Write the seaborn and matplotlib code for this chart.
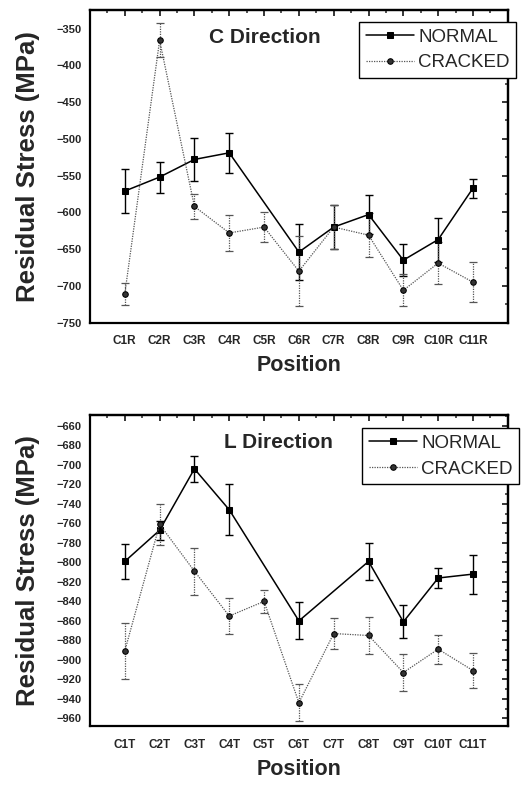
import numpy as np
import pandas as pd
import matplotlib
matplotlib.use("Agg")
import matplotlib.pyplot as plt
from matplotlib.ticker import MultipleLocator
import seaborn as sns

sns.set_style("white")
plt.rcParams['font.family'] = ['Liberation Sans', 'DejaVu Sans']

# C direction (top panel)
c_labels = ["C1R", "C2R", "C3R", "C4R", "C5R", "C6R", "C7R", "C8R", "C9R", "C10R", "C11R"]
c_normal = [-571, -552, -528, -519, np.nan, -654, -620, -603, -665, -637, -567]
c_normal_err = [30, 21, 29, 27, np.nan, 38, 30, 26, 22, 30, 13]
c_cracked = [-711, -366, -592, -628, -620, -680, -620, -631, -706, -669, -695]
c_cracked_err = [15, 23, 17, 24, 20, 48, 30, 30, 22, 29, 27]

# L direction (bottom panel)
l_labels = ["C1T", "C2T", "C3T", "C4T", "C5T", "C6T", "C7T", "C8T", "C9T", "C10T", "C11T"]
l_normal = [-799, -767, -704, -746, np.nan, -860, np.nan, -799, -861, -816, -812]
l_normal_err = [18, 10, 13, 26, np.nan, 19, np.nan, 19, 17, 10, 20]
l_cracked = [-891, -761, -809, -855, -840, -944, -873, -875, -913, -889, -911]
l_cracked_err = [29, 21, 24, 18, 12, 19, 16, 19, 19, 15, 18]


def draw_panel(ax, labels, normal, nerr, cracked, cerr, title, ylim, major, minor, leg_xy):
    pos = np.arange(1, len(labels) + 1)
    df = pd.DataFrame({"pos": pos, "normal": normal, "nerr": nerr,
                       "cracked": cracked, "cerr": cerr})

    # error bars first
    ok = df.dropna(subset=["normal"])
    ax.errorbar(ok["pos"], ok["normal"], yerr=ok["nerr"], fmt="none",
                ecolor="black", elinewidth=1.0, capsize=3, capthick=1.0, zorder=2)
    eb = ax.errorbar(df["pos"], df["cracked"], yerr=df["cerr"], fmt="none",
                     ecolor="#555555", elinewidth=0.9, capsize=3, capthick=0.9, zorder=2)
    for col in eb[2]:
        col.set_linestyle((0, (1, 1)))

    sns.lineplot(data=df, x="pos", y="normal", ax=ax, color="black", lw=1.1,
                 marker="s", markersize=4.5, markeredgecolor="black",
                 label="NORMAL", zorder=3)
    sns.lineplot(data=df, x="pos", y="cracked", ax=ax, color="#555555", lw=0.9,
                 linestyle=(0, (1, 1)), marker="o", markersize=4,
                 markeredgecolor="black", markerfacecolor="#333333",
                 label="CRACKED", zorder=3)

    ax.set_xlim(0, 12)
    ax.set_ylim(*ylim)
    ax.set_xticks(pos)
    ax.set_xticklabels(labels)
    ax.xaxis.set_minor_locator(MultipleLocator(0.5))
    ax.yaxis.set_major_locator(MultipleLocator(major))
    ax.yaxis.set_minor_locator(MultipleLocator(minor))
    ax.tick_params(axis="both", which="major", direction="out", length=4, width=1.3,
                   labelsize=8, pad=2)
    ax.tick_params(axis="both", which="minor", direction="out", length=2.5, width=1.1)
    ax.tick_params(axis="x", which="major", labelsize=8.5, pad=5)
    for lab in ax.get_xticklabels() + ax.get_yticklabels():
        lab.set_fontweight("bold")

    # mirrored top/right axes with inward ticks
    top = ax.secondary_xaxis("top")
    top.set_xticks(pos)
    top.xaxis.set_minor_locator(MultipleLocator(0.5))
    top.tick_params(which="major", direction="in", length=4, width=1.3, labeltop=False)
    top.tick_params(which="minor", direction="in", length=2.5, width=1.1)
    right = ax.secondary_yaxis("right")
    right.yaxis.set_major_locator(MultipleLocator(major))
    right.yaxis.set_minor_locator(MultipleLocator(minor))
    right.tick_params(which="major", direction="in", length=4, width=1.3, labelright=False)
    right.tick_params(which="minor", direction="in", length=2.5, width=1.1)
    for sp in list(ax.spines.values()) + [top.spines["top"], right.spines["right"]]:
        sp.set_linewidth(1.6)
        sp.set_color("black")

    ax.set_xlabel("Position", fontsize=15.5, fontweight="bold", labelpad=6)
    ax.set_ylabel("Residual Stress (MPa)", fontsize=18.5, fontweight="bold", labelpad=12)
    ax.text(leg_xy[2], leg_xy[3], title, transform=ax.transAxes, ha="center",
            va="center", fontsize=15, fontweight="bold")

    leg = ax.legend(loc="upper left", bbox_to_anchor=(leg_xy[0], leg_xy[1]),
                    fontsize=13.5, frameon=True, fancybox=False, framealpha=1,
                    edgecolor="black", handlelength=2.6, borderpad=0.35,
                    labelspacing=0.45, handletextpad=0.2, borderaxespad=0)
    leg.get_frame().set_linewidth(1.0)


fig = plt.figure(figsize=(5.23, 7.85), dpi=100)
ax1 = fig.add_axes([0.172, 0.589, 0.799, 0.398])
ax2 = fig.add_axes([0.172, 0.075, 0.799, 0.396])

draw_panel(ax1, c_labels, c_normal, c_normal_err, c_cracked, c_cracked_err,
           "C Direction", (-750, -325), 50, 25, (0.644, 0.962, 0.419, 0.914))
draw_panel(ax2, l_labels, l_normal, l_normal_err, l_cracked, l_cracked_err,
           "L Direction", (-968, -649), 20, 10, (0.651, 0.958, 0.452, 0.913))

fig.savefig("out.png", dpi=100)
